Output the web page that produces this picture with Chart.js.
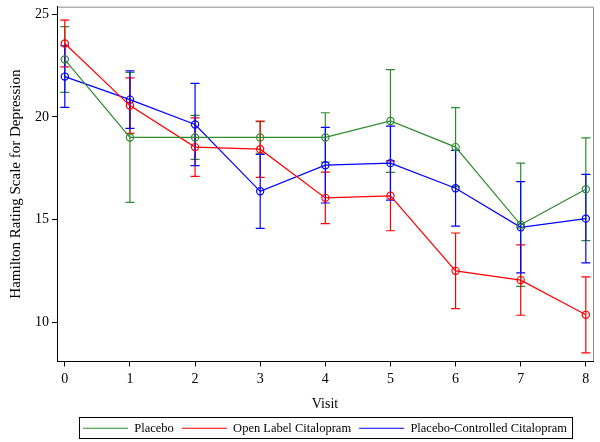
<!DOCTYPE html>
<html>
<head>
<meta charset="utf-8">
<script src="https://cdn.jsdelivr.net/npm/chart.js@4/dist/chart.umd.min.js"></script>
<style>
  html, body { margin: 0; padding: 0; background: #fff; }
  #wrap { width: 600px; height: 442px; position: relative; }
</style>
</head>
<body>
<div id="wrap"><canvas id="c" width="600" height="442"></canvas></div>
<script>
const visits = [0, 1, 2, 3, 4, 5, 6, 7, 8];
const seriesNames = ["Placebo", "Open Label Citalopram", "Placebo-Controlled Citalopram"];
const placebo = [22.79, 19.0, 19.0, 19.0, 19.0, 19.8, 18.53, 14.75, 16.48];
const placeboErr = [1.6, 3.16, 1.07, 0.77, 1.2, 2.5, 1.92, 3.0, 2.5];
const openLabel = [23.57, 20.55, 18.53, 18.43, 16.06, 16.16, 12.51, 12.06, 10.37];
const openLabelErr = [1.14, 1.35, 1.42, 1.37, 1.25, 1.7, 1.84, 1.71, 1.85];
const placeboCtrl = [21.96, 20.84, 19.63, 16.38, 17.65, 17.75, 16.53, 14.63, 15.05];
const placeboCtrlErr = [1.5, 1.4, 2.0, 1.8, 1.84, 1.8, 1.84, 2.22, 2.15];
const yTicks = [10, 15, 20, 25];
const xTitle = "Visit";
const yTitle = "Hamilton Rating Scale for Depression";

const colors = ['#2e8b2e', '#ff0000', '#0000ff'];
const means = [placebo, openLabel, placeboCtrl];
const errs = [placeboErr, openLabelErr, placeboCtrlErr];
const FONT = "'Liberation Serif', 'Times New Roman', serif";

const datasets = means.map((m, i) => ({
  label: seriesNames[i],
  data: visits.map((v, j) => ({x: v, y: m[j]})),
  borderColor: colors[i],
  backgroundColor: 'rgba(0,0,0,0)',
  borderWidth: 1.2,
  pointRadius: 3.6,
  pointBorderWidth: 1.2,
  pointStyle: 'circle',
  pointBackgroundColor: 'rgba(0,0,0,0)',
  pointBorderColor: colors[i],
  tension: 0,
  fill: false
}));

const errorBars = {
  id: 'errorBars',
  beforeDatasetsDraw(chart) {
    const ctx = chart.ctx;
    const xs = chart.scales.x, ys = chart.scales.y;
    ctx.save();
    means.forEach((m, i) => {
      ctx.strokeStyle = colors[i];
      ctx.lineWidth = 1.2;
      visits.forEach((v, j) => {
        const px = xs.getPixelForValue(v);
        const top = ys.getPixelForValue(m[j] + errs[i][j]);
        const bot = ys.getPixelForValue(m[j] - errs[i][j]);
        ctx.beginPath();
        ctx.moveTo(px, top); ctx.lineTo(px, bot);
        ctx.moveTo(px - 4.5, top); ctx.lineTo(px + 4.5, top);
        ctx.moveTo(px - 4.5, bot); ctx.lineTo(px + 4.5, bot);
        ctx.stroke();
      });
    });
    ctx.restore();
  }
};

const frame = {
  id: 'frame',
  beforeDraw(chart) {
    const {ctx, chartArea: a} = chart;
    ctx.save();
    ctx.fillStyle = '#fff';
    ctx.fillRect(0, 0, chart.width, chart.height);
    ctx.strokeStyle = '#8c8c8c';
    ctx.lineWidth = 1;
    ctx.beginPath();
    ctx.moveTo(a.left, a.top + 0.5); ctx.lineTo(a.right + 0.5, a.top + 0.5);
    ctx.lineTo(a.right + 0.5, a.bottom);
    ctx.stroke();
    ctx.restore();
  },
  afterDraw(chart) {
    const lg = chart.legend;
    if (!lg || !lg.legendHitBoxes || !lg.legendHitBoxes.length) return;
    const hb = lg.legendHitBoxes;
    const first = hb[0], last = hb[hb.length - 1];
    const cy = first.top + first.height / 2;
    const ctx = chart.ctx;
    ctx.save();
    ctx.strokeStyle = '#000';
    ctx.lineWidth = 1;
    const l = Math.round(first.left - 4) + 0.5;
    const r = Math.round(last.left + last.width + 5) + 0.5;
    const t = Math.round(cy - 11) + 0.5;
    const b = Math.round(cy + 10) + 0.5;
    ctx.strokeRect(l, t, r - l, b - t);
    ctx.restore();
  }
};

new Chart(document.getElementById('c'), {
  type: 'line',
  data: { datasets },
  plugins: [frame, errorBars],
  options: {
    responsive: false,
    animation: false,
    layout: { padding: { top: 6.7, right: 7, left: 0, bottom: -2.5 } },
    plugins: {
      tooltip: { enabled: false },
      legend: {
        position: 'bottom',
        fullSize: false,
        labels: {
          usePointStyle: true,
          pointStyle: 'line',
          pointStyleWidth: 45,
          padding: 8,
          color: '#000',
          font: { family: FONT, size: 12.5 }
        }
      }
    },
    scales: {
      x: {
        type: 'linear',
        min: -0.12,
        max: 8.11,
        afterFit(s) { s.height = 52.5; s.paddingLeft = 0; s.paddingRight = 0; },
        afterBuildTicks(s) { s.ticks = visits.map(v => ({value: v})); },
        ticks: { color: '#000', font: { family: FONT, size: 14 }, padding: 4, maxRotation: 0, autoSkip: false, callback: v => String(v) },
        grid: { display: true, drawOnChartArea: false, drawTicks: true, tickLength: 5, color: '#000', tickWidth: 1 },
        border: { display: true, color: '#000', width: 1 },
        title: { display: true, text: xTitle, color: '#000', font: { family: FONT, size: 14 }, padding: { top: 0, bottom: 1 } }
      },
      y: {
        type: 'linear',
        min: 8.1,
        max: 25.36,
        afterFit(s) { s.width = 57; s.paddingTop = 0; s.paddingBottom = 0; },
        afterBuildTicks(s) { s.ticks = yTicks.map(v => ({value: v})); },
        ticks: { color: '#000', font: { family: FONT, size: 14 }, padding: 3, callback: v => String(v) },
        grid: { display: true, drawOnChartArea: false, drawTicks: true, tickLength: 5, color: '#000', tickWidth: 1 },
        border: { display: true, color: '#000', width: 1 },
        title: { display: true, text: yTitle, color: '#000', font: { family: FONT, size: 15 }, padding: { top: 7, bottom: 0 } }
      }
    }
  }
});
</script>
</body>
</html>
